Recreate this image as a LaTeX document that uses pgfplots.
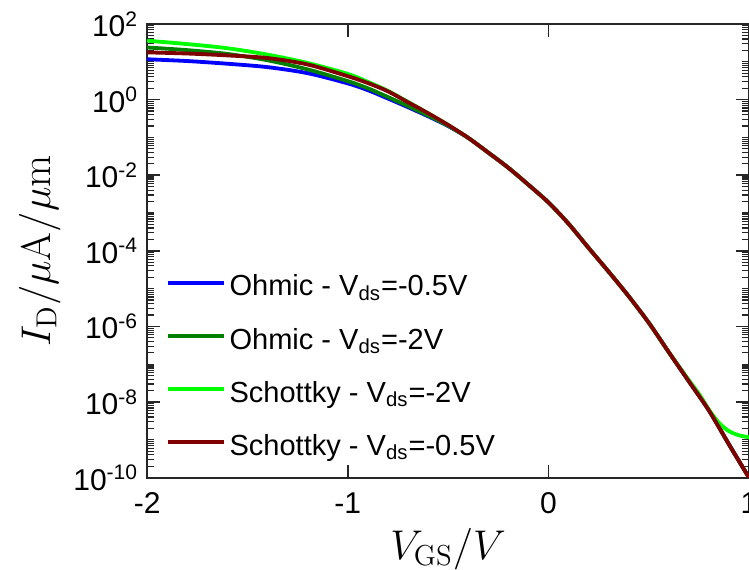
\documentclass[border=0pt]{standalone}
\usepackage{pgfplots}
\pgfplotsset{compat=1.18}
\usepackage[no-math]{fontspec}
\setmainfont{Liberation Sans}

\definecolor{cblue}{rgb}{0,0,1}
\definecolor{cdgreen}{rgb}{0,0.5,0}
\definecolor{clgreen}{rgb}{0,1,0}
\definecolor{cdred}{rgb}{0.5,0,0}
\definecolor{axgray}{rgb}{0.15,0.15,0.15}

\begin{document}
\begin{tikzpicture}
\begin{axis}[
  name=ax,
  scale only axis,
  width=300.5pt, height=226.5pt,
  xmin=-2, xmax=1,
  ymode=log, ymin=1e-10, ymax=1e2,
  xtick={-2,-1,0,1},
  xticklabels={-2,-1,0,1},
  ytick={1e-10,1e-8,1e-6,1e-4,1e-2,1e0,1e2},
  yticklabels={10\textsuperscript{-10},10\textsuperscript{-8},10\textsuperscript{-6},10\textsuperscript{-4},10\textsuperscript{-2},10\textsuperscript{0},10\textsuperscript{2}},
  minor ytick={
    2e-10,3e-10,4e-10,5e-10,6e-10,7e-10,8e-10,9e-10,1e-9,
    2e-9,3e-9,4e-9,5e-9,6e-9,7e-9,8e-9,9e-9,1e-8,
    2e-8,3e-8,4e-8,5e-8,6e-8,7e-8,8e-8,9e-8,1e-7,
    2e-7,3e-7,4e-7,5e-7,6e-7,7e-7,8e-7,9e-7,1e-6,
    2e-6,3e-6,4e-6,5e-6,6e-6,7e-6,8e-6,9e-6,1e-5,
    2e-5,3e-5,4e-5,5e-5,6e-5,7e-5,8e-5,9e-5,1e-4,
    2e-4,3e-4,4e-4,5e-4,6e-4,7e-4,8e-4,9e-4,1e-3,
    2e-3,3e-3,4e-3,5e-3,6e-3,7e-3,8e-3,9e-3,1e-2,
    2e-2,3e-2,4e-2,5e-2,6e-2,7e-2,8e-2,9e-2,1e-1,
    2e-1,3e-1,4e-1,5e-1,6e-1,7e-1,8e-1,9e-1,1e0,
    2,3,4,5,6,7,8,9,10,
    20,30,40,50,60,70,80,90},
  tick pos=both,
  tick align=inside,
  major tick length=6.5pt,
  minor tick length=3.5pt,
  every tick/.style={axgray, line width=0.8pt},
  minor tick style={axgray, line width=0.6pt},
  axis line style={axgray, line width=0.9pt},
  tick label style={font=\fontsize{15}{18}\selectfont, text=black},
  yticklabel style={xshift=-1pt},
  xticklabel style={yshift=-4pt},
  xlabel={$V_{\mathrm{GS}}/V$},
  ylabel={$I_{\mathrm{D}}/\mu\mathrm{A}/\mu\mathrm{m}$},
  every axis x label/.style={at={(axis description cs:0.5,0)}, anchor=base, yshift=-41pt, font=\fontsize{19.5}{23}\selectfont},
  every axis y label/.style={at={(axis description cs:-0.1614,0.5)}, rotate=90, anchor=base, font=\fontsize{19.5}{23}\selectfont},
  legend style={at={(axis description cs:0.03,0.245)}, anchor=west, draw=none, fill=none,
    font=\fontsize{14.5}{17}\selectfont, row sep=10.5pt, inner sep=0pt},
  legend cell align=left,
  legend image code/.code={\draw[#1] (0pt,2pt) -- (28pt,2pt);},
  every axis plot/.append style={line width=1.9pt, smooth},
]
% Ohmic, Vds = -0.5 V
\addplot[cblue] coordinates {
(-2.0,11.7) (-1.8,10.5) (-1.6,8.91) (-1.4,7.24) (-1.2,5.01) (-1.0,2.69)
(-0.9,1.78) (-0.8,1.07) (-0.7,0.631) (-0.6,0.363) (-0.5,0.200)
(-0.4,9.77e-2) (-0.3,3.98e-2) (-0.2,1.58e-2) (-0.1,5.62e-3) (0.0,1.91e-3)
(0.1,5.25e-4) (0.2,1.20e-4) (0.3,2.82e-5) (0.4,6.31e-6) (0.5,1.26e-6)
(0.6,2.09e-7) (0.7,3.55e-8) (0.8,6.03e-9) (0.9,7.59e-10) (1.0,1.0e-10)};
\addlegendentry{Ohmic - V\textsubscript{ds}=-0.5V}
% Ohmic, Vds = -2 V
\addplot[cdgreen] coordinates {
(-2.0,24.0) (-1.8,20.4) (-1.6,16.2) (-1.4,11.0) (-1.2,6.31) (-1.0,3.09)
(-0.9,2.00) (-0.8,1.17) (-0.7,0.676) (-0.6,0.380) (-0.5,0.204)
(-0.4,9.77e-2) (-0.3,3.98e-2) (-0.2,1.58e-2) (-0.1,5.62e-3) (0.0,1.91e-3)
(0.1,5.25e-4) (0.2,1.20e-4) (0.3,2.82e-5) (0.4,6.31e-6) (0.5,1.26e-6)
(0.6,2.09e-7) (0.7,3.55e-8) (0.8,6.03e-9) (0.9,7.59e-10) (1.0,1.0e-10)};
\addlegendentry{Ohmic - V\textsubscript{ds}=-2V}
% Schottky, Vds = -2 V
\addplot[clgreen] coordinates {
(-2.0,36.3) (-1.8,29.5) (-1.6,22.9) (-1.4,15.5) (-1.2,9.33) (-1.0,4.79)
(-0.9,2.95) (-0.8,1.70) (-0.7,0.871) (-0.6,0.437) (-0.5,0.214)
(-0.4,9.77e-2) (-0.3,3.98e-2) (-0.2,1.58e-2) (-0.1,5.62e-3) (0.0,1.91e-3)
(0.1,5.25e-4) (0.2,1.20e-4) (0.3,2.82e-5) (0.4,6.31e-6) (0.5,1.26e-6)
(0.6,2.09e-7) (0.7,3.80e-8) (0.75,1.66e-8) (0.8,6.31e-9) (0.85,2.82e-9)
(0.9,1.70e-9) (0.95,1.32e-9) (1.0,1.17e-9)};
\addlegendentry{Schottky - V\textsubscript{ds}=-2V}
% Schottky, Vds = -0.5 V
\addplot[cdred] coordinates {
(-2.0,17.8) (-1.8,16.6) (-1.6,14.8) (-1.4,12.6) (-1.2,8.51) (-1.0,4.17)
(-0.9,2.75) (-0.8,1.66) (-0.7,0.851) (-0.6,0.437) (-0.5,0.214)
(-0.4,9.77e-2) (-0.3,3.98e-2) (-0.2,1.58e-2) (-0.1,5.62e-3) (0.0,1.91e-3)
(0.1,5.25e-4) (0.2,1.20e-4) (0.3,2.82e-5) (0.4,6.31e-6) (0.5,1.26e-6)
(0.6,2.09e-7) (0.7,3.55e-8) (0.8,6.03e-9) (0.9,7.59e-10) (1.0,1.0e-10)};
\addlegendentry{Schottky - V\textsubscript{ds}=-0.5V}
\end{axis}
\pgfresetboundingbox
\useasboundingbox ([xshift=-73.5pt,yshift=-46pt]ax.south west) rectangle ([yshift=12pt]ax.north east);
\end{tikzpicture}
\end{document}
